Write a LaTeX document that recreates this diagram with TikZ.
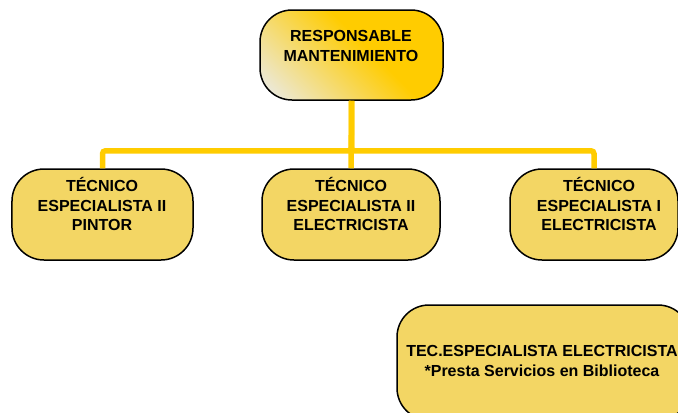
\documentclass[tikz,border=0pt]{standalone}
\usepackage{fontspec}
\setmainfont{Liberation Sans}
\definecolor{gold}{RGB}{255,204,0}
\definecolor{goldlight}{RGB}{236,232,212}
\definecolor{checker}{RGB}{243,214,100}
\pgfdeclareverticalshading{topshade}{100bp}{color(0bp)=(goldlight); color(20bp)=(goldlight); color(56bp)=(gold); color(100bp)=(gold)}
\tikzset{
  box/.style={draw=black, line width=1.5bp, rounded corners=32bp, fill=checker, inner sep=0pt},
  topbox/.style={draw=black, line width=1.5bp, rounded corners=32bp, inner sep=0pt,
    shading=topshade, shading angle=-45},
  txt/.style={align=center, font=\fontsize{16bp}{19.5bp}\selectfont\bfseries, inner sep=0pt},
  conn/.style={draw=gold, line width=5.5bp, rounded corners=3bp}
}
\begin{document}
\begin{tikzpicture}[x=1bp,y=-1bp]
\useasboundingbox (0,0) rectangle (678,412);
\clip (0,0) rectangle (678,412);
% nodes
\node[topbox, minimum width=183bp, minimum height=90bp] (top) at (351.5,55) {};
\node[box, minimum width=181bp, minimum height=91bp] (c1) at (102.5,214.5) {};
\node[box, minimum width=178bp, minimum height=91bp] (c2) at (351,214.5) {};
\node[box, minimum width=168bp, minimum height=91bp] (c3) at (594,214.5) {};
\node[box, minimum width=293bp, minimum height=115bp] (c4) at (543.5,362.5) {};
% connectors
\draw[conn] (top.south) -- ++(0,50) -| (c1.north);
\draw[conn] (top.south) -- ++(0,50) -| (c3.north);
\draw[conn] (top.south) -- (c2.north);
% texts
\node[txt] (ttop) at (351,46) {RESPONSABLE\\MANTENIMIENTO};
\node[txt] (t1) at (102,204) {TÉCNICO\\ESPECIALISTA II\\PINTOR};
\node[txt] (t2) at (351,204) {TÉCNICO\\ESPECIALISTA II\\ELECTRICISTA};
\node[txt] (t3) at (599,204) {TÉCNICO\\ESPECIALISTA I\\ELECTRICISTA};
\node[txt] (t4) at (542,361) {TEC.ESPECIALISTA ELECTRICISTA\\*Presta Servicios en Biblioteca};
\end{tikzpicture}
\end{document}
